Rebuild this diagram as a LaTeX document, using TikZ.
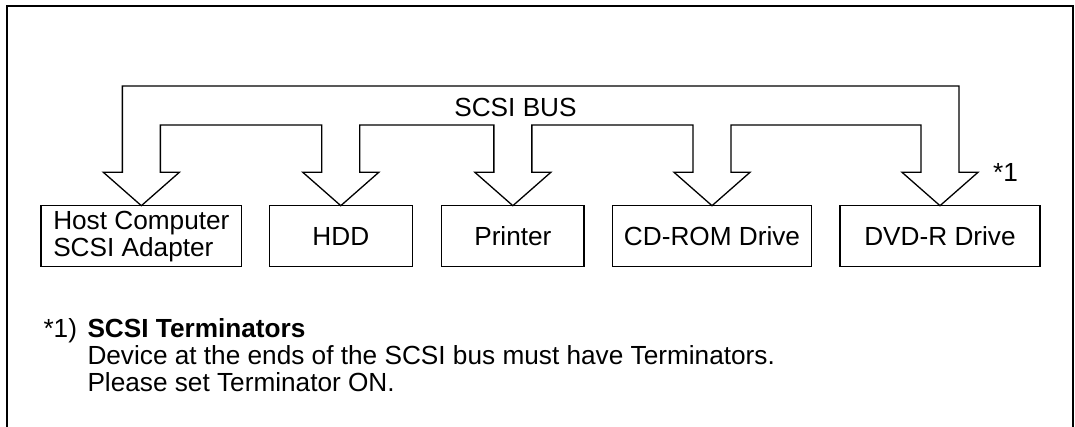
\documentclass[tikz,border=0pt]{standalone}
\usepackage{fontspec}
\setmainfont{Liberation Sans}
\newcommand{\shaftw}{19pt}
\newcommand{\headw}{38pt}
\newcommand{\headh}{33.4pt}
\newcommand{\busdrop}[3]{-- ([xshift=\shaftw]#1.north |- #2)
  -- ([shift={(\shaftw,\headh)}]#1.north) -- ([shift={(\headw,\headh)}]#1.north)
  -- (#1.north)
  -- ([shift={(-\headw,\headh)}]#1.north) -- ([shift={(-\shaftw,\headh)}]#1.north)
  -- ([xshift=-\shaftw]#1.north |- #3)}
\begin{document}
\begin{tikzpicture}[x=1pt,y=1pt,every node/.style={font=\fontsize{26.2}{27}\selectfont}]
      \tikzstyle{dev}=[draw,line width=1.3pt,minimum height=61pt,inner sep=0pt,outer sep=0pt];
      \tikzstyle{bus}=[line width=1.3pt,line join=miter];
      \tikzstyle{frame}=[line width=2pt];
      \tikzstyle{note}=[anchor=base west,inner sep=0pt];

      \useasboundingbox (0,0) rectangle (1075,427);
      \draw[frame] (6.5,0) -- (6.5,420.5) -- (1072.7,420.5) -- (1072.7,0);

      \node[dev,minimum width=200.7pt,align=left](host) at (141.35,190.8) {Host Computer\\SCSI Adapter};
      \node[dev,minimum width=143pt](hdd) at (340.8,190.8) {HDD};
      \node[dev,minimum width=142.3pt](printer) at (512.85,190.8) {Printer};
      \node[dev,minimum width=199.4pt](cdrom) at (712,190.8) {CD-ROM Drive};
      \node[dev,minimum width=200pt](dvd) at (940,190.8) {DVD-R Drive};

      \coordinate (outer) at (0,341);
      \coordinate (inner) at (0,302);

      \draw[bus] ([xshift=-\shaftw]host.north |- outer)
        \busdrop{dvd}{outer}{inner}
        \busdrop{cdrom}{inner}{inner}
        \busdrop{printer}{inner}{inner}
        \busdrop{hdd}{inner}{inner}
        \busdrop{host}{inner}{outer} -- cycle;

      \node[anchor=base,inner sep=0pt](busname) at (515.5,310.3) {SCSI BUS};
      \node[note](term) at (993,245.3) {*1};

      \node[note](mark) at (43.3,89.5) {*1)};
      \node[note](title) at (87.3,89.5) {\textbf{SCSI Terminators}};
      \node[note](lineA) at (87.3,62.5) {Device at the ends of the SCSI bus must have Terminators.};
      \node[note](lineB) at (87.3,35.5) {Please set Terminator ON.};

    \end{tikzpicture}
\end{document}
